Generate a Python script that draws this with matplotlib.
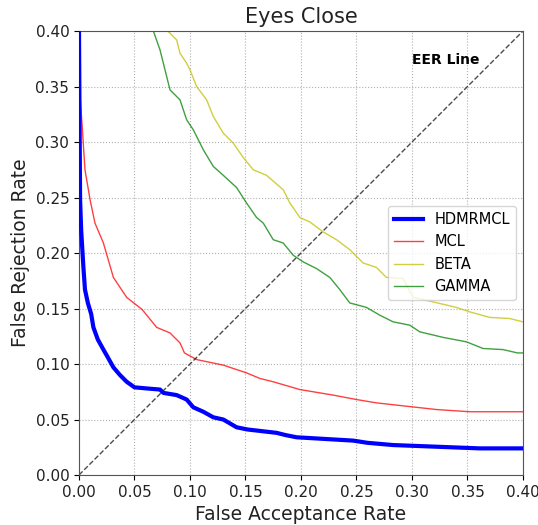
import matplotlib
matplotlib.use("Agg")
import matplotlib.pyplot as plt

hd_x = [0, 0.001, 0.002, 0.004, 0.0054, 0.008, 0.011, 0.013, 0.017, 0.022, 0.026, 0.031, 0.037,
        0.043, 0.050, 0.061, 0.073, 0.076, 0.088, 0.097, 0.103, 0.112, 0.121, 0.130, 0.142,
        0.152, 0.178, 0.186, 0.196, 0.247, 0.260, 0.283, 0.361, 0.40]
hd_y = [0.40, 0.248, 0.22, 0.187, 0.167, 0.155, 0.145, 0.133, 0.122, 0.113, 0.106, 0.097, 0.090,
        0.084, 0.079, 0.078, 0.077, 0.074, 0.072, 0.068, 0.061, 0.057, 0.052, 0.050, 0.043,
        0.041, 0.038, 0.036, 0.034, 0.031, 0.029, 0.027, 0.024, 0.024]

mcl_x = [0, 0.001, 0.0027, 0.0054, 0.010, 0.0144, 0.022, 0.031, 0.043, 0.057, 0.070, 0.082,
         0.091, 0.095, 0.106, 0.130, 0.151, 0.163, 0.175, 0.199, 0.229, 0.250, 0.268, 0.304,
         0.322, 0.352, 0.40]
mcl_y = [0.40, 0.34, 0.317, 0.275, 0.248, 0.227, 0.209, 0.178, 0.160, 0.149, 0.133, 0.128,
         0.119, 0.110, 0.104, 0.099, 0.092, 0.087, 0.084, 0.077, 0.072, 0.068, 0.065, 0.061,
         0.059, 0.057, 0.057]

beta_x = [0.080, 0.088, 0.091, 0.097, 0.100, 0.106, 0.115, 0.121, 0.130, 0.139, 0.148, 0.157,
          0.169, 0.184, 0.190, 0.199, 0.208, 0.220, 0.232, 0.244, 0.256, 0.268, 0.277, 0.292,
          0.301, 0.319, 0.340, 0.352, 0.370, 0.388, 0.40]
beta_y = [0.40, 0.392, 0.380, 0.371, 0.365, 0.350, 0.338, 0.323, 0.308, 0.299, 0.286, 0.275,
          0.270, 0.257, 0.245, 0.232, 0.228, 0.219, 0.212, 0.203, 0.191, 0.187, 0.178, 0.177,
          0.160, 0.156, 0.151, 0.147, 0.142, 0.141, 0.138]

gamma_x = [0.067, 0.073, 0.079, 0.082, 0.091, 0.097, 0.103, 0.112, 0.121, 0.130, 0.142, 0.151,
           0.160, 0.166, 0.175, 0.184, 0.193, 0.202, 0.214, 0.226, 0.235, 0.244, 0.259, 0.271,
           0.283, 0.298, 0.307, 0.328, 0.349, 0.364, 0.382, 0.395, 0.40]
gamma_y = [0.40, 0.383, 0.359, 0.347, 0.338, 0.320, 0.311, 0.293, 0.278, 0.270, 0.259, 0.245,
           0.232, 0.227, 0.212, 0.209, 0.198, 0.192, 0.186, 0.178, 0.167, 0.155, 0.151, 0.144,
           0.138, 0.135, 0.129, 0.124, 0.120, 0.114, 0.113, 0.110, 0.110]

ticks = [0.00, 0.05, 0.10, 0.15, 0.20, 0.25, 0.30, 0.35, 0.40]

fig = plt.figure(figsize=(5.38, 5.25), dpi=100)
ax = fig.add_axes([0.1468, 0.0952, 0.8253, 0.8457])

ax.plot(hd_x, hd_y, color="blue", lw=3, label="HDMRMCL", zorder=5)
ax.plot(mcl_x, mcl_y, color="red", lw=1, alpha=0.75, label="MCL")
ax.plot(beta_x, beta_y, color="y", lw=1, alpha=0.75, label="BETA")
ax.plot(gamma_x, gamma_y, color="g", lw=1, alpha=0.75, label="GAMMA")
ax.plot([0, 0.4], [0, 0.4], color="black", ls="--", lw=1, alpha=0.7)

ax.text(0.30, 0.37, "EER Line", fontsize=10, fontweight="bold")

ax.set_xlim(0, 0.4)
ax.set_ylim(0, 0.4)
ax.set_xticks(ticks)
ax.set_yticks(ticks)
ax.set_xticklabels([f"{t:.2f}" for t in ticks], fontsize=11, color="#222222")
ax.set_yticklabels([f"{t:.2f}" for t in ticks], fontsize=11, color="#222222")
ax.grid(True, ls=":", color="#b0b0b0")
for s in ax.spines.values():
    s.set_color("#555555")
ax.set_xlabel("False Acceptance Rate", fontsize=13.5, color="#222222")
ax.set_ylabel("False Rejection Rate", fontsize=13.5, color="#222222")
ax.set_title("Eyes Close", fontsize=15, color="#222222")
ax.legend(loc="center right", fontsize=10.5)

fig.savefig("out.png", dpi=100)
